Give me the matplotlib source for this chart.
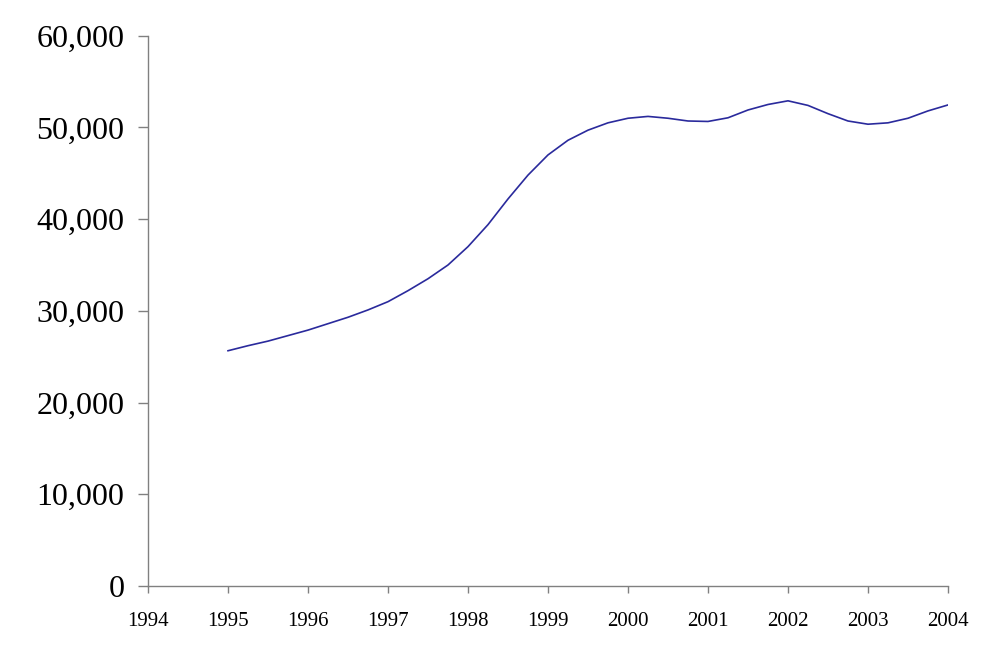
"""Line chart 1995-2004, quarterly values."""

import matplotlib
matplotlib.use("Agg")
import matplotlib.pyplot as plt
from matplotlib.ticker import FuncFormatter

# quarterly points
years = [
    1995.00, 1995.25, 1995.50, 1995.75,
    1996.00, 1996.25, 1996.50, 1996.75,
    1997.00, 1997.25, 1997.50, 1997.75,
    1998.00, 1998.25, 1998.50, 1998.75,
    1999.00, 1999.25, 1999.50, 1999.75,
    2000.00, 2000.25, 2000.50, 2000.75,
    2001.00, 2001.25, 2001.50, 2001.75,
    2002.00, 2002.25, 2002.50, 2002.75,
    2003.00, 2003.25, 2003.50, 2003.75,
    2004.00,
]
values = [
    25650, 26200, 26700, 27300,
    27900, 28600, 29300, 30100,
    31000, 32200, 33500, 35000,
    37000, 39400, 42200, 44800,
    47000, 48600, 49700, 50500,
    51000, 51200, 51000, 50700,
    50650, 51050, 51900, 52500,
    52900, 52400, 51500, 50700,
    50350, 50500, 51000, 51800,
    52450,
]
x_ticks = list(range(1994, 2005))
y_ticks = [0, 10000, 20000, 30000, 40000, 50000, 60000]

plt.rcParams["font.family"] = ["Liberation Serif", "DejaVu Serif"]

fig = plt.figure(figsize=(9.94, 6.48), dpi=100)
ax = fig.add_axes([0.1489, 0.0957, 0.8048, 0.8492])

ax.plot(years, values, color="#2a2a9c", linewidth=1.2)

ax.set_xlim(1994, 2004)
ax.set_ylim(0, 60000)
ax.set_xticks(x_ticks)
ax.set_yticks(y_ticks)
ax.yaxis.set_major_formatter(FuncFormatter(lambda v, _: f"{int(v):,}"))

for side in ("top", "right"):
    ax.spines[side].set_visible(False)
for side in ("left", "bottom"):
    ax.spines[side].set_color("#808080")
    ax.spines[side].set_linewidth(1.0)

ax.tick_params(axis="y", direction="out", length=7, width=1, color="#808080",
               labelsize=23, pad=10)
ax.tick_params(axis="x", direction="out", length=5, width=1, color="#808080",
               labelsize=15, pad=14)

fig.savefig("out.png", dpi=100)
